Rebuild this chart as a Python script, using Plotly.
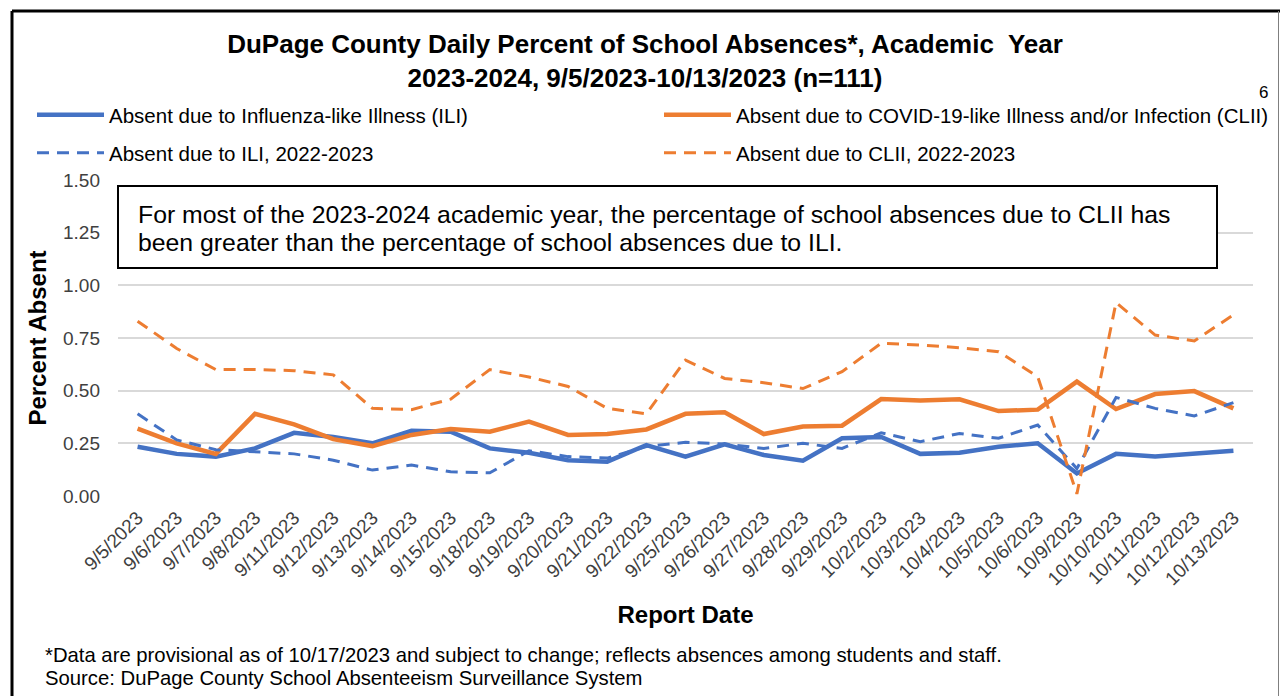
import plotly.graph_objects as go

dates = ["9/5/2023", "9/6/2023", "9/7/2023", "9/8/2023", "9/11/2023", "9/12/2023",
         "9/13/2023", "9/14/2023", "9/15/2023", "9/18/2023", "9/19/2023", "9/20/2023",
         "9/21/2023", "9/22/2023", "9/25/2023", "9/26/2023", "9/27/2023", "9/28/2023",
         "9/29/2023", "10/2/2023", "10/3/2023", "10/4/2023", "10/5/2023", "10/6/2023",
         "10/9/2023", "10/10/2023", "10/11/2023", "10/12/2023", "10/13/2023"]

ili_2324 = [0.234, 0.20, 0.187, 0.226, 0.30, 0.28, 0.25, 0.31, 0.305, 0.226, 0.205, 0.17,
            0.163, 0.242, 0.187, 0.245, 0.195, 0.168, 0.274, 0.28, 0.20, 0.205, 0.234, 0.25,
            0.107, 0.20, 0.187, 0.20, 0.215]
clii_2324 = [0.32, 0.25, 0.20, 0.39, 0.34, 0.27, 0.237, 0.29, 0.318, 0.305, 0.353, 0.29,
             0.294, 0.316, 0.39, 0.397, 0.294, 0.33, 0.334, 0.46, 0.453, 0.459, 0.403, 0.41,
             0.543, 0.413, 0.484, 0.498, 0.416]
ili_2223 = [0.39, 0.266, 0.22, 0.21, 0.20, 0.17, 0.123, 0.147, 0.115, 0.11, 0.215, 0.187,
            0.18, 0.235, 0.255, 0.247, 0.226, 0.25, 0.226, 0.30, 0.258, 0.297, 0.274, 0.337,
            0.13, 0.468, 0.416, 0.38, 0.443]
clii_2223 = [0.83, 0.70, 0.60, 0.60, 0.595, 0.575, 0.416, 0.41, 0.46, 0.60, 0.565, 0.52,
             0.416, 0.39, 0.645, 0.558, 0.538, 0.51, 0.59, 0.725, 0.717, 0.704, 0.685, 0.566,
             0.01, 0.918, 0.764, 0.736, 0.86]

y_ticks = [0, 0.25, 0.5, 0.75, 1.0, 1.25, 1.5]

series_names = ["Absent due to Influenza-like Illness (ILI)",
                "Absent due to COVID-19-like Illness and/or Infection (CLII)",
                "Absent due to ILI, 2022-2023",
                "Absent due to CLII, 2022-2023"]

BLUE = "#4472C4"
ORANGE = "#ED7D31"
FONT = "Liberation Sans, Arial, sans-serif"

L, R, T, B = 118, 27, 180, 200
W = 1280 - L - R
H = 696 - T - B


def px(xp):
    return (xp - L) / W


def py(yp):
    return (696 - B - yp) / H


fig = go.Figure()
fig.add_trace(go.Scatter(x=dates, y=ili_2324, mode="lines", name=series_names[0],
                         line=dict(color=BLUE, width=4.5), legend="legend", showlegend=True))
fig.add_trace(go.Scatter(x=dates, y=clii_2324, mode="lines", name=series_names[1],
                         line=dict(color=ORANGE, width=4.5), legend="legend2", showlegend=True))
fig.add_trace(go.Scatter(x=dates, y=ili_2223, mode="lines", name=series_names[2],
                         line=dict(color=BLUE, width=3, dash="12px,8px"), legend="legend3",
                         showlegend=True))
fig.add_trace(go.Scatter(x=dates, y=clii_2223, mode="lines", name=series_names[3],
                         line=dict(color=ORANGE, width=3, dash="12px,8px"), legend="legend4",
                         showlegend=True))

legend_common = dict(orientation="v", xanchor="left", yanchor="middle",
                     font=dict(family=FONT, size=20.5, color="#000000"),
                     itemwidth=67, bgcolor="rgba(0,0,0,0)")

fig.update_layout(
    width=1280, height=696,
    showlegend=True,
    margin=dict(l=L, r=R, t=T, b=B, autoexpand=False),
    paper_bgcolor="white", plot_bgcolor="white",
    title=dict(text="DuPage County Daily Percent of School Absences*, Academic  Year<br>"
                    "2023-2024, 9/5/2023-10/13/2023 (n=111)",
               x=645 / 1280, xref="container", xanchor="center",
               y=1 - 53 / 696, yanchor="middle",
               font=dict(family=FONT, size=26, color="#000000", weight="bold")),
    legend=dict(x=px(32), y=py(115), **legend_common),
    legend2=dict(x=px(659), y=py(115), **legend_common),
    legend3=dict(x=px(32), y=py(153), **legend_common),
    legend4=dict(x=px(659), y=py(153), **legend_common),
    xaxis=dict(type="category", range=[-0.5, len(dates) - 0.5], tickangle=-45,
               showgrid=False, showline=False, zeroline=False, ticks="",
               ticklabelstandoff=6,
               tickfont=dict(family=FONT, size=19, color="#404040"),
               title=dict(text="Report Date", standoff=17,
                          font=dict(family=FONT, size=24, color="#000000", weight="bold"))),
    yaxis=dict(range=[0, 1.5], tickvals=y_ticks, tickformat=".2f",
               showgrid=True, gridcolor="#D9D9D9", gridwidth=1.5,
               zeroline=False, showline=False, ticks="",
               ticklabelstandoff=17,
               tickfont=dict(family=FONT, size=19, color="#404040"),
               title=dict(text="Percent Absent", standoff=9,
                          font=dict(family=FONT, size=24, color="#000000", weight="bold"))),
)

# outer frame
fig.add_shape(type="line", xref="paper", yref="paper", x0=px(12), x1=px(12),
              y0=py(11), y1=py(710), line=dict(color="black", width=3))
fig.add_shape(type="line", xref="paper", yref="paper", x0=px(12), x1=px(1282),
              y0=py(11), y1=py(11), line=dict(color="black", width=3))
fig.add_shape(type="line", xref="paper", yref="paper", x0=px(1278.5), x1=px(1278.5),
              y0=py(11), y1=py(710), line=dict(color="#7F7F7F", width=1))

# callout box
fig.add_shape(type="rect", xref="paper", yref="paper", x0=px(118), x1=px(1217),
              y0=py(268), y1=py(186), fillcolor="white", layer="above",
              line=dict(color="black", width=2))
callout_lines = ["For most of the 2023-2024 academic year, the percentage of school absences due to CLII has",
                 "been greater than the percentage of school absences due to ILI."]
for txt, yy in zip(callout_lines, [214, 242]):
    fig.add_annotation(xref="paper", yref="paper", x=px(136), y=py(yy), xanchor="left",
                       yanchor="middle", align="left", showarrow=False, text=txt,
                       font=dict(family=FONT, size=24.8, color="#000000"))

# footnotes
foot_lines = ["*Data are provisional as of 10/17/2023 and subject to change; reflects absences among students and staff.",
              "Source: DuPage County School Absenteeism Surveillance System"]
for txt, yy in zip(foot_lines, [655, 678]):
    fig.add_annotation(xref="paper", yref="paper", x=px(43), y=py(yy), xanchor="left",
                       yanchor="middle", align="left", showarrow=False, text=txt,
                       font=dict(family=FONT, size=20.3, color="#000000"))

fig.add_annotation(xref="paper", yref="paper", x=px(1270), y=py(92), xanchor="right",
                   yanchor="middle", showarrow=False, text="6",
                   font=dict(family=FONT, size=17, color="#000000"))

fig.write_html("out.html", config={"displayModeBar": False},
               post_script="document.body.style.margin='0px';")
